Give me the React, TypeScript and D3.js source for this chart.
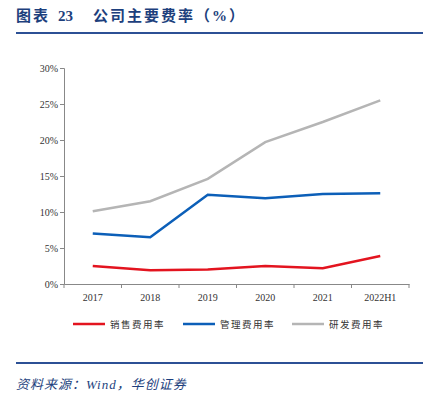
import React, { useEffect, useRef } from 'react';
import * as d3 from 'd3';

const years = ['2017', '2018', '2019', '2020', '2021', '2022H1'];
const salesRate = [2.5, 1.9, 2.0, 2.5, 2.2, 3.9];
const adminRate = [7.0, 6.5, 12.4, 11.9, 12.5, 12.6];
const rdRate = [10.1, 11.5, 14.6, 19.7, 22.5, 25.5];
const yTicks = [0, 5, 10, 15, 20, 25, 30];

const seriesNames = ['销售费用率', '管理费用率', '研发费用率'];
const seriesColors = ['#e3141f', '#0c5fb8', '#b5b5b5'];

export default function App() {
  const svgRef = useRef<SVGSVGElement>(null);

  useEffect(() => {
    const svg = d3.select(svgRef.current);
    svg.selectAll('*').remove();

    const navy = '#1d3f7d';
    const serif = '"Liberation Serif", "Times New Roman", serif';
    const cjk = '"Noto Sans CJK SC", sans-serif';

    // header
    const titleParts: [number, string][] = [[16, '图表'], [58, '23'], [93, '公司主要费率（%）']];
    titleParts.forEach(([tx, t]) => {
      svg.append('text')
        .attr('x', tx).attr('y', 21)
        .attr('fill', navy)
        .style('font-family', `${serif}, ${cjk}`)
        .style('font-size', '15px')
        .style('font-weight', 'bold')
        .style('letter-spacing', tx === 58 ? '0px' : '2px')
        .text(t);
    });

    svg.append('line')
      .attr('x1', 16).attr('x2', 423).attr('y1', 33).attr('y2', 33)
      .attr('stroke', '#2c5095').attr('stroke-width', 2);

    svg.append('line')
      .attr('x1', 16).attr('x2', 423).attr('y1', 363).attr('y2', 363)
      .attr('stroke', '#2c5095').attr('stroke-width', 2);

    svg.append('text')
      .attr('x', 16).attr('y', 389)
      .attr('fill', navy)
      .style('font-family', `${serif}, ${cjk}`)
      .style('font-size', '13px')
      .style('font-style', 'italic')
      .style('letter-spacing', '1px')
      .text('资料来源：Wind，华创证券');

    // chart
    const left = 64, right = 409, top = 68, bottom = 284;

    const x = d3.scaleBand().domain(years).range([left, right]);
    const y = d3.scaleLinear().domain([0, 30]).range([bottom, top]);

    const yAxis = svg.append('g')
      .attr('transform', `translate(${left},0)`)
      .call(d3.axisLeft(y).tickValues(yTicks).tickSize(4).tickFormat(d => `${d}%`));
    yAxis.select('.domain').attr('stroke', '#888');
    yAxis.selectAll('.tick line').attr('stroke', '#888');
    yAxis.selectAll('.tick text')
      .attr('fill', '#333')
      .attr('x', -6)
      .style('font-family', serif)
      .style('font-size', '10px');

    const xAxis = svg.append('g')
      .attr('transform', `translate(0,${bottom})`)
      .call(d3.axisBottom(x).tickSize(0));
    xAxis.select('.domain').attr('stroke', '#888');
    xAxis.selectAll('.tick text')
      .attr('fill', '#333')
      .attr('y', 10)
      .style('font-family', serif)
      .style('font-size', '10px');
    // boundary ticks between categories
    const bounds = years.map(yr => x(yr) as number).concat([right]);
    svg.append('g').selectAll('line')
      .data(bounds)
      .enter()
      .append('line')
      .attr('x1', d => d).attr('x2', d => d)
      .attr('y1', bottom).attr('y2', bottom + 4)
      .attr('stroke', '#888');

    const cx = (yr: string) => (x(yr) as number) + x.bandwidth() / 2;
    const line = d3.line<number>()
      .x((_, i) => cx(years[i]))
      .y(d => y(d));

    [salesRate, adminRate, rdRate].forEach((vals, i) => {
      svg.append('path')
        .datum(vals)
        .attr('d', line)
        .attr('fill', 'none')
        .attr('stroke', seriesColors[i])
        .attr('stroke-width', 2.5);
    });

    // legend
    const legendX = [73, 183, 292];
    const ly = 324;
    seriesNames.forEach((name, i) => {
      svg.append('line')
        .attr('x1', legendX[i]).attr('x2', legendX[i] + 32)
        .attr('y1', ly).attr('y2', ly)
        .attr('stroke', seriesColors[i]).attr('stroke-width', 2.5);
      svg.append('text')
        .attr('x', legendX[i] + 37).attr('y', ly + 3.5)
        .attr('fill', '#333')
        .style('font-family', cjk)
        .style('font-size', '9.5px')
        .style('letter-spacing', '1.5px')
        .text(name);
    });
  }, []);

  return <svg ref={svgRef} width={437} height={399} style={{ position: 'absolute', left: 0, top: 0 }} />;
}
